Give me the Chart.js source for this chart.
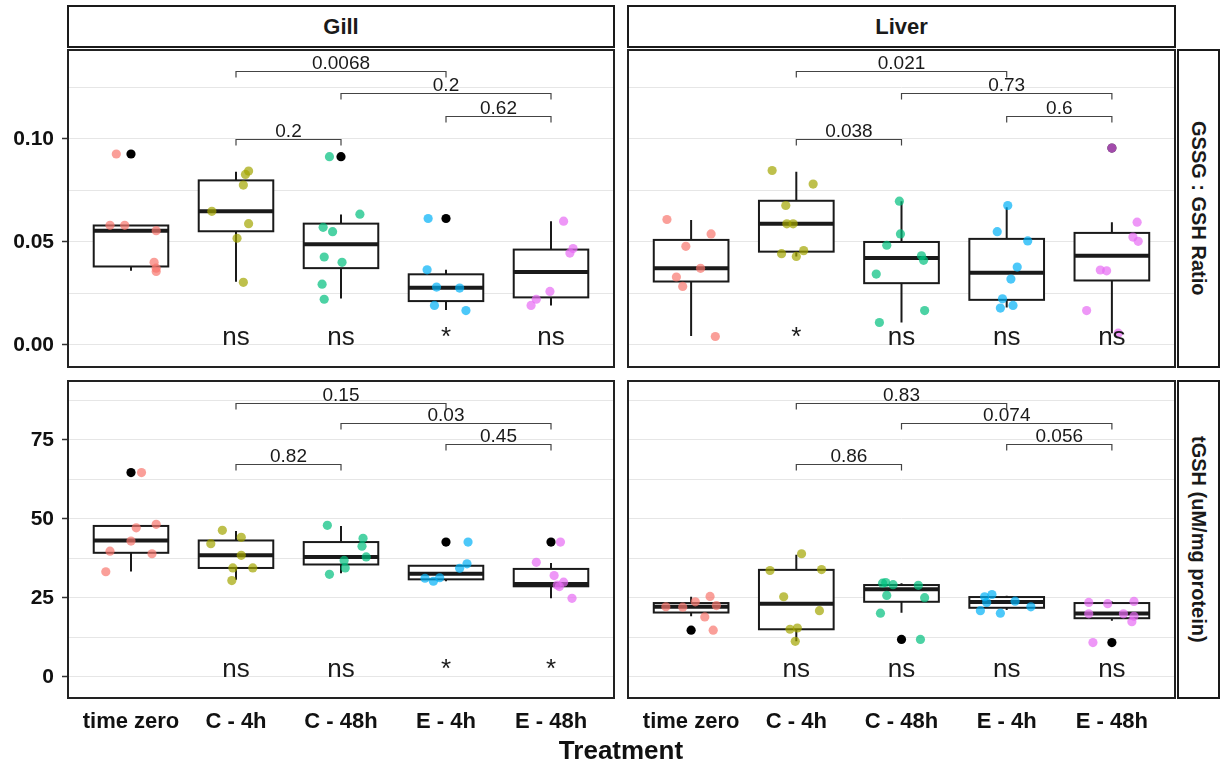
<!DOCTYPE html>
<html>
<head>
<meta charset="utf-8">
<script src="https://cdn.jsdelivr.net/npm/chart.js@4.4.1/dist/chart.umd.min.js"></script>
<style>
  body { margin: 0; background: #fff; font-family: 'Liberation Sans', Arial, sans-serif; }
  #wrap { position: relative; width: 1222px; height: 767px; overflow: hidden; }
  canvas { position: absolute; }
  .strip { position: absolute; box-sizing: border-box; border: 2px solid #1a1a1a; background: #fff;
           display: flex; align-items: center; justify-content: center; font-weight: bold; color: #1a1a1a; }
  .top { font-size: 22px; }
  .side { font-size: 20px; writing-mode: vertical-rl; }
  #xtitle { position: absolute; left: 471px; width: 300px; top: 735px; height: 30px; line-height: 30px;
            text-align: center; font-weight: bold; font-size: 26px; color: #111; }
</style>
</head>
<body>
<div id="wrap">
  <div class="strip top" id="s0" style="left:67px;top:5px;width:548px;height:43px"></div>
  <div class="strip top" id="s1" style="left:627px;top:5px;width:549px;height:43px"></div>
  <div class="strip side" id="s2" style="left:1177px;top:49px;width:43px;height:319px"></div>
  <div class="strip side" id="s3" style="left:1177px;top:380px;width:43px;height:319px"></div>

  <canvas id="gillRatio" width="620" height="328" style="left:0;top:44px"></canvas>
  <canvas id="liverRatio" width="560" height="328" style="left:620px;top:44px"></canvas>
  <canvas id="gillTgsh" width="620" height="392" style="left:0;top:375px"></canvas>
  <canvas id="liverTgsh" width="560" height="392" style="left:620px;top:375px"></canvas>

  <div id="xtitle">Treatment</div>
</div>

<script>
// categories et facettes
const categories = ['time zero', 'C - 4h', 'C - 48h', 'E - 4h', 'E - 48h'];
const tissues = ['Gill', 'Liver'];
const measures = ['GSSG : GSH Ratio', 'tGSH (uM/mg protein)'];
const colors = ['248,118,109', '163,165,0', '0,191,125', '0,176,246', '231,107,243'];

// axes
const ratioRange = [-0.0107, 0.1432];
const tgshRange = [-6.65, 93.67];
const ratioTicks = [0, 0.05, 0.10];
const tgshTicks = [0, 25, 50, 75];

// GSSG : GSH, Gill (one list per treatment)
const gillRatio = [
  [0.0927, 0.0581, 0.0581, 0.0555, 0.0401, 0.0373, 0.0357],
  [0.0828, 0.0844, 0.0776, 0.0649, 0.0589, 0.0518, 0.0304],
  [0.0914, 0.0571, 0.0550, 0.0635, 0.0427, 0.0401, 0.0295, 0.0222],
  [0.0614, 0.0365, 0.0281, 0.0276, 0.0192, 0.0167],
  [0.0601, 0.0468, 0.0446, 0.0260, 0.0222, 0.0192]
];
const gillRatioJitter = [
  [-0.14, -0.20, -0.06, 0.24, 0.22, 0.24, 0.24],
  [0.09, 0.12, 0.07, -0.23, 0.12, 0.01, 0.07],
  [-0.11, -0.17, -0.08, 0.18, -0.16, 0.01, -0.18, -0.16],
  [-0.17, -0.18, -0.09, 0.13, -0.11, 0.19],
  [0.12, 0.21, 0.18, -0.01, -0.14, -0.19]
];
// [min, q1, median, q3, max]
const gillRatioBox = [
  [0.0360, 0.0381, 0.0555, 0.0580, 0.0580],
  [0.0307, 0.0552, 0.0649, 0.0799, 0.0841],
  [0.0226, 0.0373, 0.0489, 0.0589, 0.0633],
  [0.0170, 0.0213, 0.0278, 0.0343, 0.0365],
  [0.0192, 0.0231, 0.0354, 0.0463, 0.0601]
];
const gillRatioOut = [[0.0927], [], [0.0914], [0.0614], []];

// GSSG : GSH, Liver
const liverRatio = [
  [0.0609, 0.0539, 0.0479, 0.0372, 0.0330, 0.0284, 0.0041],
  [0.0847, 0.0781, 0.0677, 0.0588, 0.0588, 0.0443, 0.0458, 0.0430],
  [0.0698, 0.0539, 0.0484, 0.0433, 0.0411, 0.0344, 0.0167, 0.0109],
  [0.0677, 0.0550, 0.0505, 0.0378, 0.0320, 0.0224, 0.0179, 0.0192],
  [0.0956, 0.0596, 0.0524, 0.0503, 0.0364, 0.0360, 0.0167, 0.0057]
];
const liverRatioJitter = [
  [-0.23, 0.19, -0.05, 0.09, -0.14, -0.08, 0.23],
  [-0.23, 0.16, -0.10, -0.09, -0.03, -0.14, 0.07, 0.00],
  [-0.02, -0.01, -0.14, 0.19, 0.21, -0.24, 0.22, -0.21],
  [0.01, -0.09, 0.20, 0.10, 0.04, -0.04, -0.06, 0.06],
  [0.00, 0.24, 0.20, 0.25, -0.11, -0.05, -0.24, 0.06]
];
const liverRatioBox = [
  [0.0044, 0.0308, 0.0372, 0.0510, 0.0607],
  [0.0430, 0.0453, 0.0589, 0.0700, 0.0841],
  [0.0109, 0.0300, 0.0422, 0.0500, 0.0698],
  [0.0182, 0.0219, 0.0351, 0.0515, 0.0669],
  [0.0057, 0.0313, 0.0433, 0.0544, 0.0596]
];
const liverRatioOut = [[], [], [], [], [0.0956]];

// tGSH, Gill
const gillTgsh = [
  [64.7, 48.3, 47.2, 43.0, 39.8, 39.0, 33.3],
  [46.4, 44.2, 42.2, 38.5, 34.5, 34.5, 30.5],
  [48.0, 43.9, 41.4, 38.0, 36.9, 34.5, 32.5],
  [42.7, 35.8, 34.4, 31.25, 30.3, 31.4],
  [42.7, 36.3, 32.1, 30.0, 28.6, 29.1, 24.9]
];
const gillTgshJitter = [
  [0.10, 0.24, 0.05, 0.00, -0.20, 0.20, -0.24],
  [-0.13, 0.05, -0.24, 0.05, -0.03, 0.16, -0.04],
  [-0.13, 0.21, 0.20, 0.24, 0.03, 0.04, -0.11],
  [0.21, 0.20, 0.13, -0.20, -0.12, -0.06],
  [0.09, -0.14, 0.03, 0.12, 0.08, 0.06, 0.20]
];
const gillTgshBox = [
  [33.4, 39.3, 43.2, 47.8, 47.8],
  [30.8, 34.5, 38.5, 43.2, 46.2],
  [32.8, 35.6, 38.0, 42.7, 47.8],
  [30.3, 30.9, 32.7, 35.2, 35.2],
  [24.9, 28.7, 29.4, 34.2, 36.1]
];
const gillTgshOut = [[64.7], [], [], [42.7], [42.7]];

// tGSH, Liver
const liverTgsh = [
  [22.2, 22.1, 23.8, 25.5, 22.6, 19.0, 14.8],
  [39.0, 33.7, 34.0, 25.4, 21.0, 15.1, 15.5, 11.3],
  [11.9, 29.7, 29.9, 29.2, 29.0, 25.8, 25.1, 20.2],
  [25.4, 26.1, 23.6, 24.0, 22.2, 21.0, 20.2],
  [23.6, 23.2, 23.9, 20.0, 20.0, 19.2, 17.5, 10.9]
];
const liverTgshJitter = [
  [-0.24, -0.08, 0.04, 0.18, 0.24, 0.13, 0.21],
  [0.05, -0.25, 0.24, -0.12, 0.22, -0.06, 0.01, -0.01],
  [0.18, -0.18, -0.15, -0.08, 0.16, -0.14, 0.22, -0.20],
  [-0.21, -0.14, -0.19, 0.08, 0.23, -0.25, -0.06],
  [-0.22, -0.04, 0.21, -0.22, 0.11, 0.21, 0.19, -0.18]
];
const liverTgshBox = [
  [19.2, 20.4, 22.2, 23.4, 25.4],
  [11.3, 15.1, 23.2, 33.9, 38.7],
  [20.3, 23.8, 27.8, 29.1, 29.7],
  [21.2, 21.9, 23.7, 25.3, 25.7],
  [17.8, 18.6, 20.1, 23.4, 23.9]
];
const liverTgshOut = [[14.8], [], [11.9], [], [10.9]];

// comparaisons (p-values)
const pairs = [[1, 3], [2, 4], [3, 4], [1, 2]];
const ratioBracketY = [0.1331, 0.1222, 0.1112, 0.1002];
const tgshBracketY = [86.8, 80.3, 73.8, 67.3];
const gillRatioP = ['0.0068', '0.2', '0.62', '0.2'];
const liverRatioP = ['0.021', '0.73', '0.6', '0.038'];
const gillTgshP = ['0.15', '0.03', '0.45', '0.82'];
const liverTgshP = ['0.83', '0.074', '0.056', '0.86'];
// significativite vs time zero
const gillRatioSig = ['', 'ns', 'ns', '*', 'ns'];
const liverRatioSig = ['', '*', 'ns', 'ns', 'ns'];
const gillTgshSig = ['', 'ns', 'ns', '*', '*'];
const liverTgshSig = ['', 'ns', 'ns', 'ns', 'ns'];

const FONT = "'Liberation Sans', Arial, sans-serif";

document.getElementById('s0').textContent = tissues[0];
document.getElementById('s1').textContent = tissues[1];
document.getElementById('s2').textContent = measures[0];
document.getElementById('s3').textContent = measures[1];

// boites, crochets, ns/* et cadre du panneau
function panelPlugin(p) {
  return {
    id: 'panel',
    beforeDatasetsDraw(chart) {
      const { ctx, chartArea: a, scales: { x, y } } = chart;
      ctx.save();
      ctx.beginPath();
      ctx.rect(a.left, a.top, a.width, a.height);
      ctx.clip();
      ctx.strokeStyle = '#1a1a1a';
      p.box.forEach((b, i) => {
        const xl = x.getPixelForValue(i - 0.355);
        const xr = x.getPixelForValue(i + 0.355);
        const xc = x.getPixelForValue(i);
        const [lo, q1, md, q3, hi] = b.map(v => y.getPixelForValue(v));
        ctx.lineWidth = 2;
        ctx.beginPath();
        ctx.moveTo(xc, q1); ctx.lineTo(xc, lo);
        ctx.moveTo(xc, q3); ctx.lineTo(xc, hi);
        ctx.stroke();
        ctx.fillStyle = '#fff';
        ctx.fillRect(xl, q3, xr - xl, q1 - q3);
        ctx.strokeRect(xl, q3, xr - xl, q1 - q3);
        ctx.lineWidth = 4;
        ctx.beginPath();
        ctx.moveTo(xl, md); ctx.lineTo(xr, md);
        ctx.stroke();
      });
      ctx.restore();
    },
    afterDatasetsDraw(chart) {
      const { ctx, scales: { x, y } } = chart;
      ctx.save();
      ctx.strokeStyle = '#444';
      ctx.lineWidth = 1.2;
      ctx.fillStyle = '#1a1a1a';
      ctx.textAlign = 'center';
      ctx.textBaseline = 'alphabetic';
      ctx.font = '19px ' + FONT;
      pairs.forEach((pr, k) => {
        const x1 = x.getPixelForValue(pr[0]);
        const x2 = x.getPixelForValue(pr[1]);
        const yy = Math.round(y.getPixelForValue(p.bracketY[k])) + 0.5;
        ctx.beginPath();
        ctx.moveTo(x1, yy + 6); ctx.lineTo(x1, yy);
        ctx.lineTo(x2, yy); ctx.lineTo(x2, yy + 6);
        ctx.stroke();
        ctx.fillText(p.pval[k], (x1 + x2) / 2, yy - 3);
      });
      ctx.font = '26px ' + FONT;
      p.sig.forEach((s, i) => {
        if (s) ctx.fillText(s, x.getPixelForValue(i), y.getPixelForValue(0));
      });
      ctx.restore();
    },
    afterDraw(chart) {
      const { ctx, chartArea: a } = chart;
      ctx.save();
      ctx.strokeStyle = '#222';
      ctx.lineWidth = 2;
      ctx.strokeRect(a.left, a.top, a.width, a.height);
      ctx.restore();
    }
  };
}

function drawPanel(id, p) {
  const datasets = p.values.map((vals, i) => ({
    data: vals.map((v, j) => ({ x: i + p.jitter[i][j], y: v })),
    backgroundColor: 'rgba(' + colors[i] + ',0.7)',
    pointRadius: 4.6,
    pointBorderWidth: 0
  }));
  // outliers du boxplot, dessines sous les points
  datasets.push({
    data: p.out.flatMap((o, i) => o.map(v => ({ x: i, y: v }))),
    backgroundColor: '#000',
    pointRadius: 4.6,
    pointBorderWidth: 0
  });

  const major = v => p.ticks.some(t => Math.abs(t - v) < 1e-6);

  new Chart(document.getElementById(id), {
    type: 'scatter',
    data: { datasets },
    options: {
      responsive: false,
      animation: false,
      events: [],
      layout: { padding: p.padding },
      plugins: { legend: { display: false }, tooltip: { enabled: false } },
      scales: {
        x: {
          type: 'linear',
          display: p.showX,
          min: -0.6,
          max: 4.6,
          grid: { display: false },
          border: { display: false },
          afterFit: s => {
            if (p.showX) s.height = 69;
            s.paddingLeft = 0; s.paddingRight = 0;
          },
          ticks: {
            stepSize: 1,
            includeBounds: false,
            autoSkip: false,
            maxRotation: 0,
            padding: 3,
            color: '#111',
            font: { family: FONT, size: 22, weight: 'bold' },
            callback: v => categories[v] ?? ''
          }
        },
        y: {
          min: p.range[0],
          max: p.range[1],
          border: { display: false },
          afterFit: s => {
            s.width = p.showY ? 68 : 0;
            s.paddingTop = 0; s.paddingBottom = 0;
          },
          grid: {
            color: '#e6e6e6',
            lineWidth: 1,
            drawTicks: p.showY,
            tickLength: 6,
            tickWidth: 1.5,
            tickColor: c => major(c.tick.value) ? '#333' : 'rgba(0,0,0,0)'
          },
          ticks: {
            display: p.showY,
            stepSize: p.step,
            includeBounds: false,
            padding: 8,
            color: '#111',
            font: { family: FONT, size: 21, weight: 'bold' },
            callback: v => major(v) ? (p.step < 1 ? v.toFixed(2) : String(v)) : ''
          }
        }
      }
    },
    plugins: [panelPlugin(p)]
  });
}

drawPanel('gillRatio', {
  values: gillRatio, jitter: gillRatioJitter, box: gillRatioBox, out: gillRatioOut,
  pval: gillRatioP, bracketY: ratioBracketY, sig: gillRatioSig,
  range: ratioRange, ticks: ratioTicks, step: 0.025,
  showX: false, showY: true, padding: { top: 6, right: 6, bottom: 5, left: 0 }
});
drawPanel('liverRatio', {
  values: liverRatio, jitter: liverRatioJitter, box: liverRatioBox, out: liverRatioOut,
  pval: liverRatioP, bracketY: ratioBracketY, sig: liverRatioSig,
  range: ratioRange, ticks: ratioTicks, step: 0.025,
  showX: false, showY: false, padding: { top: 6, right: 5, bottom: 5, left: 8 }
});
drawPanel('gillTgsh', {
  values: gillTgsh, jitter: gillTgshJitter, box: gillTgshBox, out: gillTgshOut,
  pval: gillTgshP, bracketY: tgshBracketY, sig: gillTgshSig,
  range: tgshRange, ticks: tgshTicks, step: 12.5,
  showX: true, showY: true, padding: { top: 6, right: 6, bottom: 0, left: 0 }
});
drawPanel('liverTgsh', {
  values: liverTgsh, jitter: liverTgshJitter, box: liverTgshBox, out: liverTgshOut,
  pval: liverTgshP, bracketY: tgshBracketY, sig: liverTgshSig,
  range: tgshRange, ticks: tgshTicks, step: 12.5,
  showX: true, showY: false, padding: { top: 6, right: 5, bottom: 0, left: 8 }
});
</script>
</body>
</html>
